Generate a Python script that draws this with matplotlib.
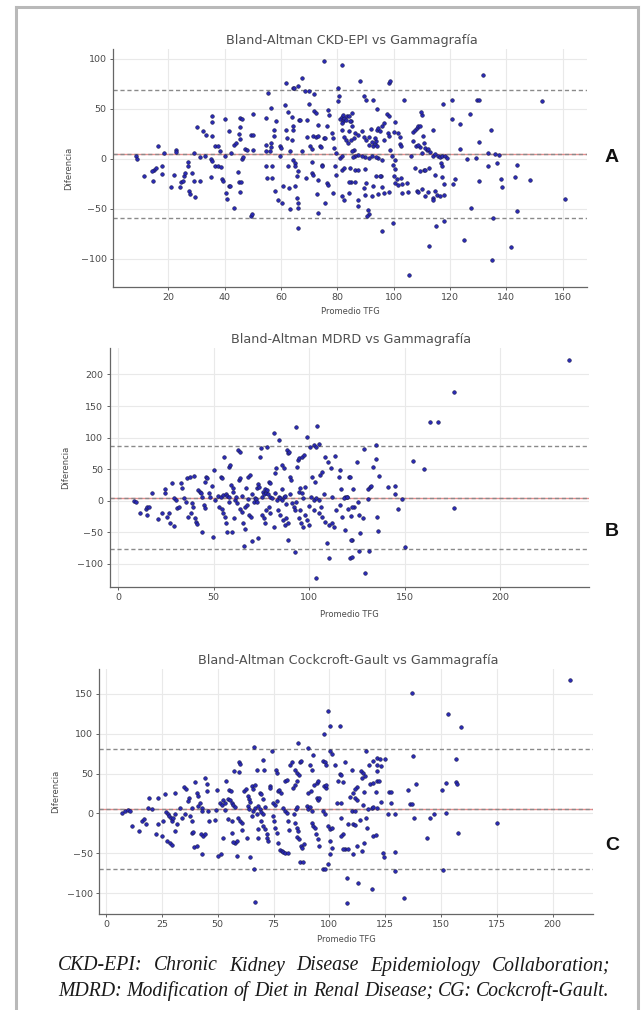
import matplotlib.pyplot as plt
from matplotlib.lines import Line2D

# values (Promedio TFG, Diferencia)
ckd_points = [
    (8.5, 3), (9, 0), (11.5, -17), (15, -11), (15.5, -9), (14.3, -12), (14.7, -22), (16.5, 13),
    (17.8, -7), (17.8, -15), (18.5, 6), (21, -28), (22.2, -16), (22.7, 9), (22.7, 7), (24.3, -28),
    (24.6, -23), (25.6, -17), (26, -14), (25.4, -22), (27, -3), (27, -7), (27.2, -32), (27.8, -35),
    (28.6, -14), (29.3, -22), (29.6, -38), (29, 6), (30.2, 32), (31.3, -22), (31.3, 2), (32.2, 28),
    (32.9, 3), (33.3, 24), (35.2, -18), (35.7, 43), (35.7, 37), (35.7, 23), (35.2, 0), (35.5, -2),
    (36.6, 13), (36.6, -7), (37.6, -7), (37.8, 13), (38.4, 8), (38.8, -8), (39.2, -20), (39.6, -22),
    (40, 40), (40.2, 3), (40.4, -34), (40.8, -40), (41.4, 28), (41.4, -27), (42, -27), (42.4, 6),
    (43.2, -49), (43.5, 14), (44, 16), (44.6, -13), (45, -23), (45.9, -23), (45.2, 25), (45.6, 20),
    (45.6, 32), (45.6, 41), (46.1, 40), (45.6, -33), (46.1, 0), (46.4, 2), (47.1, 10), (47.9, 9),
    (49.5, 24), (50.2, 24), (49.4, -57), (49.8, -55), (50.2, 9), (50.2, 45),
    (54.8, 41), (54.8, 14), (54.8, 8), (54.8, -7), (55.1, -19), (55.5, 66), (56, 8), (56.5, 16),
    (56.5, 12), (56.5, 51), (56.7, -7), (56.7, -19), (57.5, 29), (57.5, 23), (58, -32), (58.2, 38),
    (59.1, -41), (59.6, 13), (60, 11), (59.6, 3), (60.3, -44), (60.9, -27), (61.5, 54), (61.7, 29),
    (62, 21), (61.7, 76), (62.4, 47), (62.6, -7), (63.3, 8), (63, -29), (63.3, -50), (63.8, 42),
    (63.8, 19), (64.4, 71), (64.7, 71), (64.4, 33), (64.4, 29), (64.4, -1), (65, -4), (65, -7),
    (65, -27), (65.7, -39), (65.7, -17), (65.9, -12), (66.2, 73), (66.2, -44), (66.2, -49), (66, -69),
    (66.4, 39), (66.8, 39), (67.4, 81), (67.6, 8), (68.6, 68), (70, 68), (69.2, 39), (69.2, 22),
    (68.8, -19), (70, 55), (70.3, 13), (71, 10), (71, -3), (71, -14), (71.5, -16), (71.9, 65),
    (71.9, 48), (72.3, 46), (71.5, 23), (72.3, 22), (73, 34), (73.2, 23), (72.7, -35), (73.2, -21),
    (73.2, -54), (73.9, 13), (74.2, 12), (74.5, -6), (74.7, -7), (75.2, 21), (75.7, 21), (75.7, -44),
    (76.3, 33), (76.6, 49), (77.1, 44), (76.3, -24), (76.6, -26), (78, 26), (78.5, 21), (78.5, -34),
    (78.8, 11), (79.6, 6), (79.1, -7), (79.6, -16), (80.1, 71), (80.3, 58), (80.6, 63),
    (81, 40), (81.5, 42), (82, 38), (82.5, 41), (83, 39), (82, 44), (81.8, 36), (83.4, 43),
    (81.8, -11), (82.5, -9), (81.5, -37), (82.5, -41), (81.8, 29), (82.5, 22), (83, 19), (81, 1),
    (81.8, 3), (85.3, 46), (85, 38), (84.9, 19), (85.8, 9), (84.9, -23), (75.3, 98), (81.7, 94),
    (88.1, 77.6), (98.2, 76), (98.8, 78), (131.8, 84), (152.8, 57.6), (160.8, -39.7), (89.3, 62.6),
    (90.1, 59.3), (92.5, 58.6), (103.5, 59.3), (117.4, 55.3), (120.6, 59.3), (129.5, 59.3),
    (130.1, 58.6), (94, 50), (120.6, 40), (123.6, 35.3), (127.1, 45), (134.6, 29.3), (130.1, 16.6),
    (123.6, 10), (133.4, 6), (136, 5), (137.2, 4), (126, 0), (129.1, 1), (133.4, -7), (136.8, -4),
    (143.7, -6), (138.1, -20), (138.6, -28), (143.1, -18), (148.4, -21), (130.1, -22),
    (127.5, -48.7), (135.4, -59.4), (143.7, -52.4), (125, -81.4), (112.6, -86.7), (141.7, -88),
    (134.8, -101.4), (105.6, -116.4), (96, -71.7), (99.6, -64.4), (115, -67.3), (117.7, -62),
    (90.8, -51.4), (91.3, -54.7), (90.5, -56.7), (87.3, -40.7), (87.3, -46.7),
    (84, 42.6), (84.6, 37.6), (85.2, 32.6), (84.2, 27.6), (85.8, 21), (83.7, 16), (86.3, 26),
    (87.5, 24.3), (88.7, 27.6), (89.3, 22), (90.1, 19.3), (91.1, 14.3), (91.3, 22), (92.3, 16.6),
    (92.8, 12.6), (93.2, 15.3), (93.7, 17.6), (94, 12.6), (93.4, 21), (92, 30), (94, 29.3),
    (94.6, 31), (95.2, 27.6), (95.8, 32.6), (96.7, 36), (97.6, 45.3), (98.2, 42.6), (97.9, 26),
    (98.5, 23.3), (98.8, 9.3), (99.3, 3.3), (99.6, -5.7), (100.3, -0.7), (100.5, -10),
    (100, -17.4), (100.5, -24), (101.1, -20), (101.7, -25.7), (102.3, 15.3), (102.7, 12.6),
    (102.3, 22), (101.7, 26), (100.5, 36.6), (100, 26.6), (96.7, 19.3), (96, -0.7), (95.6, -16.7),
    (94.6, 1), (93.7, 2), (92.3, 2.6), (91.1, 1), (89.9, 2), (88.9, 2.6), (87.5, 4.3), (86.3, 2.6),
    (85.4, 2), (85.2, 7.6), (86.3, -10.7), (84.6, -9), (84, -23.4), (86.1, -23.4), (84, -34),
    (89.3, -29), (89.9, -35.7), (92.3, -36.7), (92.8, -27.4), (93.7, -16.7), (95.2, -17.4),
    (96, -28), (96.7, -34), (94.6, -34.7), (98.2, -33.4), (89.9, -10), (87.5, -11.4), (90.1, -24),
    (102.7, -19), (102.9, -24.7), (104.7, -24), (105, -33.4), (102.9, -34), (107, 27),
    (107.6, 29.3), (108.2, 31), (108.8, 32.6), (109.4, 32.6), (110, 44.3), (109.8, 46.6),
    (107.9, 12.6), (109.4, 12), (110.2, 6), (111.8, 8.6), (113, 6.6), (113.8, 3.3), (114.7, 5.3),
    (115.7, 3.3), (116.5, 2), (117.3, 3.3), (118.3, 3.3), (118.9, 1), (116.8, -4), (117.3, -6.7),
    (113.8, 29.3), (110.3, 23.3), (107.6, -9), (109.4, -12.4), (110.6, -11.4), (111.2, -10.7),
    (112.6, -9), (114.5, -15.7), (117.1, -18.4), (118, -25), (121.2, -24.7), (121.8, -20),
    (108.2, -32.4), (108.6, -33.4), (110, -30), (111.2, -37.4), (112.1, -33.4), (113.8, -39),
    (114.7, -32.4), (115.3, -35.7), (116.5, -37.4), (118, -35.7), (114.1, -41.4), (110.6, 16),
    (111.2, 11), (112.1, 10), (107, 17.6), (108.6, 14.3), (106.2, 3.3),
]

mdrd_points = [
    (235.9, 223.3), (176, 171.5), (163.3, 125.4), (167.3, 123.9), (154.1, 63), (160.3, 50.3),
    (176, -11), (150.2, -74), (128.5, 82.6), (134.9, 87.4), (125, 60.9), (134.9, 66.7), (133.2, 53),
    (136.7, 39.7), (121, 38), (122.7, 18), (130.7, 18), (132, 22.3), (132.5, 23.3), (141.5, 22.3),
    (145, 23.3), (144.7, 10.6), (118.9, 6.4), (119.8, 6.4), (130.7, 2), (125.5, -3), (148.8, 2),
    (146.4, -12.6), (120.3, -12.6), (123.3, -10.5), (122, -24.3), (125.9, -23.2), (128, -27),
    (135.4, -26.4), (126.7, -51.8), (135.9, -47.6), (122.4, -62.9), (125.9, -79.8), (131.1, -79.3),
    (121.5, -90.4), (129.3, -115.3),
    (8.4, 0), (9.3, -1.5), (11.4, -19), (14.5, -13.7), (15.4, -9.5), (16.2, -10.5), (15.4, -22.7),
    (17.6, 12.7), (21.1, -29.6), (22.8, -20), (24.6, 18), (24.6, 11.6), (25.8, -25.4), (26.7, -20),
    (27, -34.9), (29.3, -40), (28.4, 28.6), (29.3, 3.7), (30.2, 1), (31, -12.1), (32.2, -9.5),
    (32.8, 27.6), (33.6, 19.6), (34.5, 3.7), (35.4, -1.5), (36.2, 35.5), (37.5, 38.2), (36.8, -25.4),
    (38, -20), (38.5, -4.2), (39.2, -9.5), (39.7, 39.2), (40.3, -28), (41, -33.3), (41.5, -37),
    (42, 17), (42.7, 14.3), (43.2, 11.7), (44.1, 6.4), (44.1, -49.2), (45.5, 30.2), (46.2, 38.2),
    (46.7, 35.5), (45, -6.8), (45.8, -12.1), (47.6, 11.7), (48.4, 6.4), (49, 23.3), (49.6, -57),
    (50.2, 48.7), (51, 1), (52.4, 7.4), (53.7, 6.4), (54.9, 9), (56.3, 10.6), (57.1, 7.4), (58, 6.4),
    (53.7, 38.2), (54.5, 35.5), (53.1, -9.5), (54.2, -13.7), (54.9, -20), (55.4, 69.9),
    (55.9, -25.4), (56.6, -35.9), (57.1, -49.2), (58, 54), (58.4, 56.7), (59.4, 24.9), (60.1, 19.6),
    (59.7, -49.2), (60.6, -28), (61.5, 1), (62.4, -4.2), (62.9, 80.5), (63.6, 77.8), (63.2, 32.8),
    (64.1, 35.5), (64.1, -13.7), (65, -17.5), (65.3, -35.9), (66.4, -45.4), (65.8, -71.9),
    (66.7, -9.5), (67.6, -6.8), (68.1, 38.2), (69.3, 40.8), (68.8, -22.7), (69.8, -25.4),
    (70.2, -63.4), (71.1, -1.5), (71.6, 3.7), (72.3, 2), (72.8, 19.6), (73.3, 26.5), (74, 22.3),
    (73.3, -59.7), (74.5, 68.8), (75, 83.1), (75.4, 6.4), (75.8, 14.3), (76.3, 10.6), (76.8, 18),
    (77.2, 12.7), (78, 16.9), (78.5, 10.6), (75.4, -22.7), (76.3, -28), (76.8, -35.9),
    (77.5, -14.8), (78.9, -9.5), (79.8, -20), (78, 85.8), (78.9, 30.2), (79.8, 27.6), (79.8, 6.4),
    (80.6, 3.7), (81.5, 108), (81.5, -41.2), (82.4, 43.4), (82.7, 51.4), (83.2, 1), (84.1, 6.4),
    (85, 3.7), (85.9, 1), (86.7, 6.4), (87.6, 7.4), (84.1, 96.3), (83.8, -14.8), (85, -22.7),
    (86.2, -30.7), (87.2, -38.6), (87.9, -28), (88.9, -36), (85.9, 56.7), (86.7, 51.4),
    (88.5, 80.5), (89, 75.2), (89.7, 77.8), (89, -62.4), (90.2, 38.2), (90.7, 32.8), (91.1, -4.2),
    (92, -9.5), (92.8, -14.8), (92.5, -81), (93.2, 116.5), (93.7, 54), (94.2, 64.6), (94.9, 67.2),
    (96.3, 69.9), (97.2, 72.5), (94.6, 14.3), (95.4, 19.6), (96.3, 11.7), (97.7, 22.3), (94.6, -28),
    (96, -35.9), (96.7, -41.2), (98, -22.7), (98.9, -30.7), (99.8, -38.6), (98.9, 100.6),
    (100.6, 85.8), (102.4, 88.4), (103.6, 85.8), (105, 90), (104.3, 118.6), (101.2, 6.4),
    (102.4, 1), (103.6, 3.7), (105, 1), (101.5, 38.2), (103.3, 30.2), (105.9, 40.8), (106.7, 46),
    (102.4, -14.8), (105, -20), (106.7, -25.4), (108.5, -33.3), (110.6, -38.6), (112, -36),
    (112.8, -41.2), (109.4, -67.6), (110.2, -91.5), (103.6, -123.2), (108.5, 68.8), (109.9, 62),
    (111.6, 51.4), (113.7, 70.9), (115.4, 38.2), (116.3, 48.7), (116.8, 18), (118.1, 3.7),
    (119.8, 6.4), (116.3, -6.8), (117.2, -25.4), (118.9, -46.6), (122, -62.4), (122.4, -88.9),
    (121.5, 38.2), (122.4, -9.5),
    (62, 5), (65, 8), (68, 2), (70, 10), (73, -3), (82, 12), (88, -5), (90, 10), (93, -2), (97, 4),
    (100, -8), (58, -2), (60, 14), (67, 20), (86, 18), (95, -15), (106, -10), (108, 10), (112, 5),
    (114, -15),
]

cg_points = [
    (207.9, 166.7), (136.8, 150.8), (153.2, 125), (159.1, 108), (104.7, 110), (116.3, 78),
    (137.5, 71.7), (156.5, 68.3), (138.7, 36.3), (135.3, 30), (150.6, 30), (152.4, 38.3),
    (156.5, 39.6), (157.2, 36.3), (136, 12.1), (136.8, 12.1), (137.8, -6.2), (145, -6.2),
    (146.9, -1.2), (152.4, 0.8), (175.1, -12.5), (157.6, -25), (143.5, -31.2), (150.9, -70.8),
    (129.3, -72), (133.5, -105.4), (118.9, -94.2), (112.9, -86.7), (108, -81.2), (108, -112),
    (129.3, -48), (124.1, -49.2), (124.4, -54.6), (126.3, -0.4), (129.3, -0.4), (123.3, 14.2),
    (127.8, 13.3), (126.8, 27.1), (127.8, 27.1), (121.1, 69.6), (122.6, 68.7), (124.8, 68.7),
    (119.6, 66.2), (121.4, 60.4), (122.9, 59.2), (121.1, 52.9), (117.8, 60.4), (114, 53.7),
    (115.1, 50.8), (115.9, 46.7), (114.4, 43.8), (118.1, 37.1), (119.6, 38.3), (121.1, 40.4),
    (122.3, 41.2), (120.8, 27.1), (109.9, 55), (112.2, 32.9), (115.4, 27.1), (111.4, 19.6),
    (112.2, 16.3), (109.2, 20.4), (115.1, 10.4), (117.4, 5), (118.9, 7.1), (119.6, 7.9),
    (121.1, 6.3), (109.9, 3), (111.4, 3), (113.6, -8.8), (116.6, -6.2), (108.4, -12.9),
    (110.7, -13.8), (111.4, -14.6), (116.9, -18.8), (119.6, -28.3), (120.8, -27), (115.4, -36.7),
    (112.2, -40.8), (114.4, -47), (110.7, -51.2), (106.9, -44.2), (108.4, -45), (105.9, -26.3),
    (106.2, 39.6), (106.9, 64.6), (104.7, 49.6), (110.7, 25.8), (111.4, 31.2),
    (7, 0.8), (8.5, 3), (10, 3.7), (10.7, 3), (11.8, -15.8), (14.8, -22), (16, -9.6), (17.1, -7.5),
    (17.7, -13.8), (19.2, 18.8), (18.9, 7), (20.7, 5), (22.2, -26.3), (23.1, 18.8), (23.4, -13.8),
    (24.9, -28.3), (25.7, -9.6), (26.7, 2.1), (27.6, -0.4), (28.2, -3.3), (29.1, -6.2), (29.7, -9.6),
    (30.1, -5.4), (30.9, -0.4), (26.4, 24.6), (27.1, -34.6), (28.6, -36.7), (29.7, -39.6),
    (30.9, 25.8), (30.9, -22), (31.6, -13), (33.1, 7), (34.2, -5.4), (35.3, -1.2), (35, 33),
    (36, 31.2), (37.1, 19.6), (36.5, 15.4), (37.6, -3.3), (38.3, -9.6), (38.6, 7), (38.3, -24.2),
    (39.1, -23), (39.5, -42.1), (40.6, -40.8), (39.8, 39.6), (40.6, 25.8), (41.3, 21.7), (41.3, 9.2),
    (42.1, 13.3), (42.8, 7), (43.1, 3), (42.5, -25.4), (43.6, -28.3), (44.3, -26.3), (43.1, -50.4),
    (44.3, 44.6), (45, 37.1), (45, 28.7), (45.8, 3), (46.1, -9.6), (48.8, -8.8), (49.1, 3.7),
    (49.5, 30), (50.3, -53.3), (51.5, -51.3), (51, 13.3), (51.8, 11.2), (52.5, 16.3), (53.2, 13.3),
    (52.5, -31.3), (53.2, 3.7), (53.9, 41.2), (55, 30), (55.9, 28.7), (54.7, 17.5), (55.5, 16.3),
    (56.2, 13.3), (57, 10.4), (57.7, 7.9), (54.4, -7.5), (56.2, -9.6), (56.5, -24.2), (57.7, -36.7),
    (58.5, -53.3), (59.2, -5.4), (59.9, -9.6), (60.7, -11.7), (61, -21.3), (59.5, 64.6), (60, 62.1),
    (57.4, 52.9), (59.5, 52.1), (57, -35.4), (58.5, -34.6), (61.9, 28.7), (62.5, 31.2),
    (63.4, 21.7), (64, 17.5), (64.4, 14.6), (63.7, 9.2), (64, 5), (63, -30.4), (64.4, -54.6),
    (65.2, 34.2), (65.9, 31.2), (66.7, 36.2), (66.4, 83), (66.4, -70), (66.7, -110.8), (65.2, -3.3),
    (65.9, 3), (66.7, 7), (67.4, -1.2), (68.2, 9.2), (67.4, 55), (67.9, -20), (68.2, -30.4),
    (68.9, 25.8), (69.6, 23.8), (70.4, 17.5), (68.9, 5), (69.6, 2.1), (70.4, -1.2), (71.1, 7.9),
    (69.4, -9.6), (70.4, -15.8), (71.1, -20), (71.9, -25.4), (70.4, 67.5), (70.8, 55), (71.9, -30.4),
    (72.6, -34.6), (73.4, 34.2), (73.4, 32.1), (74.1, 78.8), (74.9, -3.3), (75.3, -9.6),
    (75.6, -17.9), (74.9, 13.3), (75.6, 11.2), (76.4, 15.4), (75.9, 55), (76.4, 50.8), (76.4, -24.2),
    (77.1, -36.7), (77.9, -46.3), (78.6, -47.1), (79.3, -48), (80.1, -49.2), (81.6, -49.2),
    (76.8, 27.9), (77.4, 30), (78.3, 25.8), (79.3, 7), (80.1, 3), (80.8, 0.8), (80.1, 40.4),
    (80.8, 42.5), (81.3, -9.6), (81.9, -21.3), (82.3, 61.2), (83.1, 64.6), (83.8, 32.1), (84.6, 36.2),
    (85.3, 40.4), (84.6, 55), (85.3, 50.8), (84.3, -1.2), (84.9, 5), (85.3, 7.9), (84.6, -11.7),
    (85.3, -18.8), (86, -22), (85.8, 88.3), (85.3, -29.6), (86.4, -32.5), (86.8, 64.6), (87.3, 66.2),
    (86.4, 48.8), (87.3, -40.8), (87.9, -43), (88.7, -38.8), (86.8, -60.4), (88.3, -60.4),
    (89.8, 9.2), (90.5, 5.8), (91.3, 7.5), (92, 3), (90.5, 82.1), (90.5, 25.8), (91.7, 27.9),
    (91.3, 61.2), (92, 55), (92, -11.7), (92.8, -15.8), (93.5, -18.8), (92.8, 73.8), (93.2, 36.2),
    (94.3, 38.3), (95, 40.4), (93.8, -25.4), (94.7, -32.5), (95.3, -40.8), (94.3, 19.6), (95, 16.3),
    (95.3, 18.8), (97.2, 65.4), (98, 64.6), (98.7, 61.2), (97.7, 99.6), (97.2, -70), (98, -70),
    (97.7, 34.2), (98.3, 32.1), (98.7, 36.2), (97.2, 3), (98, -1.2), (99.5, 128), (100.2, 109),
    (100.2, 78.8), (101, 74.6), (99.5, -15.8), (100.2, -20), (101, -18), (100.2, -34.6), (101, -43),
    (100.2, -50.4), (99.5, -63.8), (102.5, 61.2), (104, 40.4), (105.4, 48.8), (103.2, 13.3),
    (105.1, 13.3), (105.4, -5.4), (105.4, -28.3), (106.2, -45),
]

titles = ["Bland-Altman CKD-EPI vs Gammagrafía",
          "Bland-Altman MDRD vs Gammagrafía",
          "Bland-Altman Cockcroft-Gault vs Gammagrafía"]
panel_letters = ["A", "B", "C"]
means = [4.8, 4.5, 5.5]
upper_loa = [68.7, 86, 81]
lower_loa = [-59, -77, -70]
x_limits = [(0.4, 168.6), (-4.4, 246.4), (-3, 218)]
y_limits = [(-128, 110), (-137, 242), (-126, 181)]
x_ticks = [range(20, 161, 20), range(0, 201, 50), range(0, 201, 25)]
y_ticks = [range(-100, 101, 50), range(-100, 201, 50), range(-100, 151, 50)]
caption_1 = "CKD-EPI: Chronic Kidney Disease Epidemiology Collaboration;"
caption_2 = "MDRD: Modification of Diet in Renal Disease; CG: Cockcroft-Gault."

W, H = 643, 1010
fig = plt.figure(figsize=(W / 100, H / 100), dpi=100)

# axes boxes in pixels: left, top, right, bottom
boxes = [(113, 49, 587, 287), (109.5, 348, 589, 587), (99.3, 669, 593, 914)]
ylab_x = [-0.084, -0.082, -0.080]
xlab_y = [-0.084, -0.096, -0.086]
letter_y = [157, 531, 845]

datasets = [ckd_points, mdrd_points, cg_points]
grey = "#4a4a4a"

for i, pts in enumerate(datasets):
    l, t, r, b = boxes[i]
    ax = fig.add_axes([l / W, 1 - b / H, (r - l) / W, (b - t) / H])
    xs, ys = zip(*pts)
    ax.axhline(means[i], color="#e06060", lw=1.0, alpha=0.7, zorder=1)
    ax.axhline(means[i], color="#8a8a8a", lw=1.0, ls=(0, (3, 2)), zorder=2)
    ax.axhline(upper_loa[i], color="#8a8a8a", lw=1.0, ls=(0, (3, 2)), zorder=2)
    ax.axhline(lower_loa[i], color="#8a8a8a", lw=1.0, ls=(0, (3, 2)), zorder=2)
    ax.scatter(xs, ys, s=7, facecolor="#2a2ab4", edgecolor="#141440", lw=0.35, zorder=3)
    ax.set_xlim(*x_limits[i])
    ax.set_ylim(*y_limits[i])
    ax.set_xticks(list(x_ticks[i]))
    ax.set_yticks(list(y_ticks[i]))
    ax.grid(True, color="#e9e9e9", lw=0.8, zorder=0)
    ax.set_axisbelow(True)
    for s in ["top", "right"]:
        ax.spines[s].set_visible(False)
    for s in ["left", "bottom"]:
        ax.spines[s].set_color("#666666")
        ax.spines[s].set_linewidth(0.9)
    ax.tick_params(labelsize=6.8, colors=grey, length=2.5, width=0.6, pad=2)
    ax.set_ylabel("Diferencia", fontsize=6, color=grey)
    ax.set_xlabel("Promedio TFG", fontsize=6, color=grey)
    ax.yaxis.set_label_coords(ylab_x[i], 0.5)
    ax.xaxis.set_label_coords(0.5, xlab_y[i])
    ax.text(0.504, 1.034, titles[i], transform=ax.transAxes, ha="center", va="center",
            fontsize=9.2, color="#505050")
    fig.text(612 / W, 1 - letter_y[i] / H, panel_letters[i], ha="center", va="center",
             fontsize=14, fontweight="bold", family="Liberation Sans", color="#111111")

# frame around the figure
frame = dict(color="#b9b9b9", lw=2.2, transform=fig.transFigure)
fig.add_artist(Line2D([16 / W, 16 / W], [0, 1 - 7 / H], **frame))
fig.add_artist(Line2D([638 / W, 638 / W], [0, 1 - 7 / H], **frame))
fig.add_artist(Line2D([16 / W, 638 / W], [1 - 7 / H, 1 - 7 / H], **frame))

# caption: size set so the second line fills the text width, first line justified
renderer = fig.canvas.get_renderer()
x_left, x_right = 58, 610
cap_font = dict(family="Liberation Serif", style="italic", color="#1a1a1a")

probe = fig.text(0, 0, caption_2, fontsize=12, **cap_font)
cap_size = 12 * (x_right - x_left) / probe.get_window_extent(renderer).width
probe.remove()


def justified(line, y_px):
    words = line.split(" ")
    objs = [fig.text(0, 1 - y_px / H, w, ha="left", va="center", fontsize=cap_size, **cap_font)
            for w in words]
    widths = [o.get_window_extent(renderer).width for o in objs]
    gap = (x_right - x_left - sum(widths)) / (len(words) - 1)
    x = x_left
    for o, w in zip(objs, widths):
        o.set_x(x / W)
        x += w + gap


justified(caption_1, 966)
justified(caption_2, 991)

fig.savefig("out.png", dpi=100)
